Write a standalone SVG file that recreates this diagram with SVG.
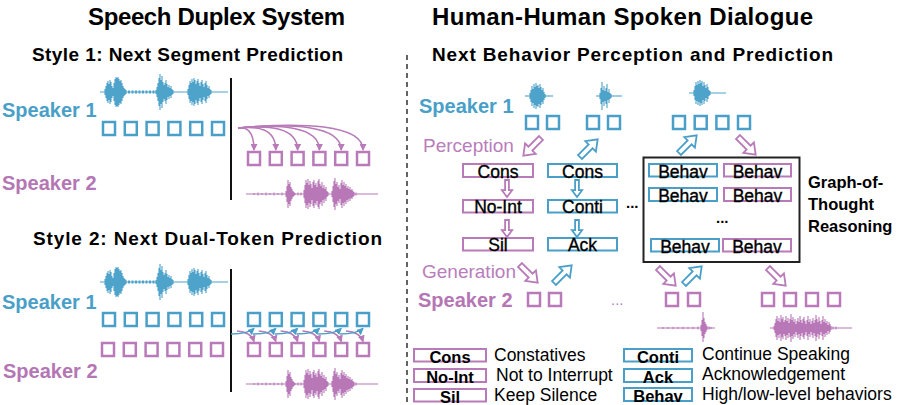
<svg xmlns="http://www.w3.org/2000/svg" xmlns:xlink="http://www.w3.org/1999/xlink" width="897" height="405" viewBox="0 0 897 405">
<style>
text{font-family:"Liberation Sans",Arial,sans-serif}
.t1{font-size:24px;font-weight:bold;fill:#000}
.t2{font-size:19px;font-weight:bold;fill:#000}
.s1{font-size:20px;font-weight:bold;fill:#4a9fc8}
.s2{font-size:20px;font-weight:bold;fill:#b476b4}
.pl{font-size:19px;fill:#b97dbb}
.lt{font-size:17.5px;fill:#000;stroke:#000;stroke-width:0.35;text-anchor:middle}
.lg{font-size:16.5px;font-weight:bold;fill:#000;text-anchor:middle}
.ds{font-size:17.5px;fill:#000}
.got{font-size:16.5px;font-weight:bold;fill:#000}
.bq{fill:none;stroke:#4a9fc8;stroke-width:2.5}
.pq{fill:none;stroke:#b87ab8;stroke-width:2.5}
.bl{fill:#fff;stroke:#4a9fc8;stroke-width:2}
.pbx{fill:#fff;stroke:#b87ab8;stroke-width:2}
.wb{fill:none;stroke:#4ea3cb;stroke-width:1.1}
.wp{fill:none;stroke:#b878b8;stroke-width:1.1}
.hb{fill:#fff;stroke:#4a9fc8;stroke-width:1.8}
.hp{fill:#fff;stroke:#b87ab8;stroke-width:1.8}
.cp{fill:none;stroke:#b87ab8;stroke-width:1.5}
.cb{fill:none;stroke:#4a9fc8;stroke-width:1.5}
.vl{stroke:#111;stroke-width:2}
</style>
<defs>
<rect id="sq" width="12" height="13"/>
<path id="ha" d="M0,-2.8H15V-7.5L25,0L15,7.5V2.8H0Z" vector-effect="non-scaling-stroke"/>
<marker id="mp" markerUnits="userSpaceOnUse" markerWidth="7" markerHeight="7" refX="6" refY="3.5" orient="auto"><path d="M0,0L7,3.5L0,7z" fill="#b87ab8"/></marker>
<marker id="mb" markerUnits="userSpaceOnUse" markerWidth="7" markerHeight="7" refX="6" refY="3.5" orient="auto"><path d="M0,0L7,3.5L0,7z" fill="#4a9fc8"/></marker>
<g id="wvb">
<path d="M0,0H128"/>
<path d="M28,0H55" stroke-width="3" stroke-dasharray="2 1.5"/>
<path d="M5,-3v6M6,-6v12M7,-9v18M8,-11v22M9,-8v16M10,-12v24M11,-10v20M12,-6v12M13,-4v8M14,-9v18M15,-13v26M16,-15v30M17,-14v28M18,-15v30M19,-13v26M20,-11v22M21,-12v24M22,-9v18M23,-6v12M24,-4v8M25,-3v6M26,-2v4M56,-2v4M57,-5v10M58,-9v18M59,-14v28M60,-18v36M61,-12v24M62,-16v32M63,-10v20M64,-7v14M65,-9v18M66,-12v24M67,-8v16M68,-5v10M69,-7v14M70,-4v8M71,-6v12M72,-3v6M73,-2v4M88,-3v6M89,-7v14M90,-11v22M91,-9v18M92,-13v26M93,-10v20M94,-14v28M95,-12v24M96,-8v16M97,-11v22M98,-13v26M99,-9v18M100,-6v12M101,-10v20M102,-12v24M103,-8v16M104,-5v10M105,-9v18M106,-11v22M107,-7v14M108,-4v8M109,-6v12M110,-3v6M111,-2v4"/>
</g>
<g id="wvp">
<path d="M0,0H132"/>
<path d="M8,-1v2M12,-1.5v3M16,-1v2M20,-1.5v3M24,-1v2M28,-1.5v3M32,-1v2M36,-1.5v3M40,-3v6M41,-8v16M42,-14v28M43,-10v20M44,-12v24M45,-7v14M46,-5v10M47,-3v6M48,-2v4M49,-1v2M52,-1.5v3M55,-1.5v3M58,-4v8M59,-9v18M60,-14v28M61,-11v22M62,-15v30M63,-9v18M64,-13v26M65,-10v20M66,-6v12M67,-12v24M68,-14v28M69,-9v18M70,-11v22M71,-7v14M72,-13v26M73,-15v30M74,-10v20M75,-8v16M76,-12v24M77,-6v12M78,-9v18M79,-5v10M80,-7v14M81,-3v6M82,-2v4M86,-3v6M87,-8v16M88,-13v26M89,-16v32M90,-10v20M91,-12v24M92,-7v14M93,-9v18M94,-5v10M95,-11v22M96,-14v28M97,-9v18M98,-12v24M99,-8v16M100,-10v20M101,-6v12M102,-8v16M103,-5v10M104,-7v14M105,-4v8M106,-5v10M107,-3v6M108,-2v4M110,-1.5v3"/>
</g>
</defs>
<rect width="897" height="405" fill="#fff"/>

<!-- titles -->
<text class="t1" x="88" y="25" textLength="257">Speech Duplex System</text>
<text class="t1" x="432" y="25" textLength="381">Human-Human Spoken Dialogue</text>
<text class="t2" x="32" y="61" textLength="311">Style 1: Next Segment Prediction</text>
<text class="t2" x="432" y="61" textLength="401">Next Behavior Perception and Prediction</text>
<text class="t2" x="33" y="245" textLength="349">Style 2: Next Dual-Token Prediction</text>
<line x1="407" y1="55" x2="407" y2="405" stroke="#111" stroke-width="1.3" stroke-dasharray="5 4"/>

<!-- Style 1 -->
<g id="style1-speaker1">
<text class="s1" x="2" y="117">Speaker 1</text>
<use href="#wvb" class="wb" transform="translate(100,92)"/>
<use href="#sq" class="bq" x="103" y="122"/><use href="#sq" class="bq" x="124.8" y="122"/><use href="#sq" class="bq" x="146.6" y="122"/><use href="#sq" class="bq" x="168.4" y="122"/><use href="#sq" class="bq" x="190.2" y="122"/><use href="#sq" class="bq" x="212" y="122"/>
</g>
<g id="style1-speaker2">
<text class="s2" x="2" y="190">Speaker 2</text>
<use href="#sq" class="pq" x="248" y="152"/><use href="#sq" class="pq" x="269.8" y="152"/><use href="#sq" class="pq" x="291.6" y="152"/><use href="#sq" class="pq" x="313.4" y="152"/><use href="#sq" class="pq" x="335.2" y="152"/><use href="#sq" class="pq" x="357" y="152"/>
<use href="#wvp" class="wp" transform="translate(246,194)"/>
</g>
<line class="vl" x1="231" y1="78" x2="231" y2="200"/>

<!-- Style 2 -->
<g id="style2-speaker1">
<text class="s1" x="2" y="309">Speaker 1</text>
<use href="#wvb" class="wb" transform="translate(100,282)"/>
<use href="#sq" class="bq" x="103" y="313"/><use href="#sq" class="bq" x="124.8" y="313"/><use href="#sq" class="bq" x="146.6" y="313"/><use href="#sq" class="bq" x="168.4" y="313"/><use href="#sq" class="bq" x="190.2" y="313"/><use href="#sq" class="bq" x="212" y="313"/>
<use href="#sq" class="bq" x="248" y="313"/><use href="#sq" class="bq" x="269.8" y="313"/><use href="#sq" class="bq" x="291.6" y="313"/><use href="#sq" class="bq" x="313.4" y="313"/><use href="#sq" class="bq" x="335.2" y="313"/><use href="#sq" class="bq" x="357" y="313"/>
</g>
<g id="style2-speaker2">
<text class="s2" x="3" y="378">Speaker 2</text>
<use href="#sq" class="pq" x="102" y="343"/><use href="#sq" class="pq" x="123.8" y="343"/><use href="#sq" class="pq" x="145.6" y="343"/><use href="#sq" class="pq" x="167.4" y="343"/><use href="#sq" class="pq" x="189.2" y="343"/><use href="#sq" class="pq" x="211" y="343"/>
<use href="#sq" class="pq" x="248" y="343"/><use href="#sq" class="pq" x="269.8" y="343"/><use href="#sq" class="pq" x="291.6" y="343"/><use href="#sq" class="pq" x="313.4" y="343"/><use href="#sq" class="pq" x="335.2" y="343"/><use href="#sq" class="pq" x="357" y="343"/>
<use href="#wvp" class="wp" transform="translate(246,384)"/>
</g>
<line class="vl" x1="231" y1="269" x2="231" y2="392"/>

<!-- Right: speaker 1 -->
<g id="hh-speaker1">
<text class="s1" x="419" y="113">Speaker 1</text>
<g class="wb">
<path d="M525,96H553"/>
<path transform="translate(525,96)" d="M5,-3v6M6,-6v12M7,-10v20M8,-7v14M9,-12v24M10,-9v18M11,-13v26M12,-10v20M13,-11v22M14,-8v16M15,-12v24M16,-9v18M17,-6v12M18,-8v16M19,-4v8M20,-2v4"/>
<path d="M596,96H622"/>
<path transform="translate(596,96)" d="M4,-3v6M5,-8v16M6,-14v28M7,-6v12M8,-10v20M9,-5v10M10,-8v16M11,-12v24M12,-4v8M13,-7v14M14,-3v6M15,-2v4"/>
<path d="M689,93H726"/>
<path transform="translate(689,93)" d="M5,-3v6M6,-7v14M7,-11v22M8,-8v16M9,-12v24M10,-9v18M11,-13v26M12,-10v20M13,-12v24M14,-7v14M15,-11v22M16,-8v16M17,-5v10M18,-9v18M19,-6v12M20,-3v6M21,-2v4"/>
</g>
<use href="#sq" class="bq" x="526" y="116"/><use href="#sq" class="bq" x="547" y="116"/>
<use href="#sq" class="bq" x="587" y="116"/><use href="#sq" class="bq" x="608" y="116"/>
<use href="#sq" class="bq" x="673" y="116"/><use href="#sq" class="bq" x="694.7" y="116"/><use href="#sq" class="bq" x="716.4" y="116"/><use href="#sq" class="bq" x="738" y="116"/>
</g>

<text class="pl" x="423" y="152">Perception</text>
<text class="pl" x="422" y="278">Generation</text>

<!-- behavior nodes -->
<g id="n-cons-p"><rect class="pbx" x="463" y="164" width="70" height="13"/><text class="lt" x="498" y="177.5">Cons</text></g>
<g id="n-noint"><rect class="pbx" x="463" y="200" width="70" height="12.5"/><text class="lt" x="498" y="213">No-Int</text></g>
<g id="n-sil"><rect class="pbx" x="463" y="238" width="70" height="12.5"/><text class="lt" x="498" y="251">Sil</text></g>
<g id="n-cons-b"><rect class="bl" x="548" y="164" width="69" height="13"/><text class="lt" x="582.5" y="177.5">Cons</text></g>
<g id="n-conti"><rect class="bl" x="548" y="200" width="69" height="12.5"/><text class="lt" x="582.5" y="213">Conti</text></g>
<g id="n-ack"><rect class="bl" x="548" y="238" width="69" height="12.5"/><text class="lt" x="582.5" y="251">Ack</text></g>
<text x="626" y="208" style="font-size:15px;font-weight:bold;fill:#000">...</text>

<g id="got-box">
<rect x="643.5" y="157.5" width="156" height="104.5" fill="none" stroke="#222" stroke-width="2"/>
<rect class="bl" x="649" y="164" width="68" height="12.5"/><text class="lt" x="683" y="177.5">Behav</text>
<rect class="pbx" x="724" y="164" width="67" height="12.5"/><text class="lt" x="757.5" y="177.5">Behav</text>
<rect class="bl" x="649" y="188" width="68" height="13"/><text class="lt" x="683" y="201.5">Behav</text>
<rect class="pbx" x="724" y="188" width="67" height="13"/><text class="lt" x="757.5" y="201.5">Behav</text>
<text x="716" y="223" style="font-size:15px;font-weight:bold;fill:#000">...</text>
<rect class="bl" x="651" y="239" width="68" height="12.5"/><text class="lt" x="685" y="252.5">Behav</text>
<rect class="pbx" x="723" y="239" width="68" height="12.5"/><text class="lt" x="757" y="252.5">Behav</text>
</g>
<g id="got-label">
<text class="got" x="808" y="188">Graph-of-</text>
<text class="got" x="808" y="210">Thought</text>
<text class="got" x="808" y="232">Reasoning</text>
</g>

<!-- Right: speaker 2 -->
<g id="hh-speaker2">
<text class="s2" x="418" y="307">Speaker 2</text>
<use href="#sq" class="pq" x="528" y="293"/><use href="#sq" class="pq" x="549" y="293"/>
<text x="611" y="305" style="font-size:15px;fill:#b87ab8">...</text>
<use href="#sq" class="pq" x="666" y="293"/><use href="#sq" class="pq" x="688" y="293"/>
<use href="#sq" class="pq" x="762" y="293"/><use href="#sq" class="pq" x="784" y="293"/><use href="#sq" class="pq" x="806" y="293"/><use href="#sq" class="pq" x="828" y="293"/>
<g class="wp">
<path d="M657,328H715"/>
<path transform="translate(657,328)" d="M6,-1v2M11,-1v2M16,-1.2v2.4M21,-1v2M26,-1.2v2.4M31,-1v2M36,-1.2v2.4M41,-1.5v3M44,-3v6M45,-8v16M46,-16v30M47,-10v20M48,-6v12M49,-4v8M50,-2v4M52,-1.5v3M54,-1v2"/>
<path d="M770,328H852"/>
<path transform="translate(770,328)" d="M4,-2v4M5,-5v10M6,-9v18M7,-12v24M8,-7v14M9,-10v20M10,-6v12M11,-13v26M12,-9v18M13,-11v22M14,-6v12M15,-8v16M16,-12v24M17,-7v14M18,-10v20M19,-5v10M20,-9v18M21,-14v28M22,-8v16M23,-11v22M24,-6v12M25,-9v18M26,-4v8M27,-7v14M28,-10v20M29,-6v12M30,-12v24M31,-8v16M32,-5v10M33,-9v18M34,-11v22M35,-7v14M36,-4v8M37,-8v16M38,-12v24M39,-6v12M40,-9v18M41,-4v8M42,-7v14M43,-10v20M44,-5v10M45,-8v16M46,-13v26M47,-9v18M48,-6v12M49,-11v22M50,-7v14M51,-4v8M52,-8v16M53,-12v24M54,-6v12M55,-9v18M56,-5v10M57,-7v14M58,-3v6M59,-6v12M60,-4v8M61,-2v4M63,-1.5v3M66,-1.5v3"/>
</g>
</g>

<!-- connectors -->
<g id="connectors">
<path class="cp" marker-end="url(#mp)" d="M238,128 C246,127 254,130 254,150"/>
<path class="cp" marker-end="url(#mp)" d="M238,128 C257,126 275.8,128 275.8,150"/>
<path class="cp" marker-end="url(#mp)" d="M238,128 C268,125 297.6,127 297.6,150"/>
<path class="cp" marker-end="url(#mp)" d="M238,128 C279,124 319.4,126 319.4,150"/>
<path class="cp" marker-end="url(#mp)" d="M238,128 C290,123 341.2,125 341.2,150"/>
<path class="cp" marker-end="url(#mp)" d="M238,128 C300,122 363,124 363,150"/>

<path class="cp" marker-end="url(#mp)" d="M237,331 Q251,332 254,341.5"/>
<path class="cp" marker-end="url(#mp)" d="M258.8,331 Q272.8,332 275.8,341.5"/>
<path class="cp" marker-end="url(#mp)" d="M280.6,331 Q294.6,332 297.6,341.5"/>
<path class="cp" marker-end="url(#mp)" d="M302.4,331 Q316.4,332 319.4,341.5"/>
<path class="cp" marker-end="url(#mp)" d="M324.2,331 Q338.2,332 341.2,341.5"/>
<path class="cp" marker-end="url(#mp)" d="M346,331 Q360,332 363,341.5"/>
<path class="cb" marker-end="url(#mb)" d="M231,334 Q248,334 254,328.5"/>
<path class="cb" marker-end="url(#mb)" d="M252.8,334 Q269.8,334 275.8,328.5"/>
<path class="cb" marker-end="url(#mb)" d="M274.6,334 Q291.6,334 297.6,328.5"/>
<path class="cb" marker-end="url(#mb)" d="M296.4,334 Q313.4,334 319.4,328.5"/>
<path class="cb" marker-end="url(#mb)" d="M318.2,334 Q335.2,334 341.2,328.5"/>
<path class="cb" marker-end="url(#mb)" d="M340,334 Q357,334 363,328.5"/>

<use href="#ha" class="hp" transform="translate(541,138) rotate(135)"/>
<use href="#ha" class="hb" transform="translate(580,157) rotate(-45)"/>
<use href="#ha" class="hb" transform="translate(679,153) rotate(-45)"/>
<use href="#ha" class="hp" transform="translate(738,137) rotate(45)"/>
<use href="#ha" class="hp" transform="translate(520,265) rotate(45)"/>
<use href="#ha" class="hb" transform="translate(554,283) rotate(-45)"/>
<use href="#ha" class="hp" transform="translate(658,268) rotate(45)"/>
<use href="#ha" class="hb" transform="translate(684,284) rotate(-45)"/>
<use href="#ha" class="hp" transform="translate(768,268) rotate(45)"/>
<use href="#ha" class="hp" transform="translate(507,180) rotate(90) scale(0.68)"/>
<use href="#ha" class="hp" transform="translate(507,220) rotate(90) scale(0.68)"/>
<use href="#ha" class="hb" transform="translate(577,180) rotate(90) scale(0.68)"/>
<use href="#ha" class="hb" transform="translate(577,220) rotate(90) scale(0.68)"/>
</g>

<!-- legend -->
<g id="legend">
<rect class="pbx" x="414" y="349" width="72" height="12.5"/><text class="lg" x="450" y="362.5">Cons</text>
<rect class="pbx" x="414" y="369" width="72" height="13"/><text class="lg" x="450" y="382.5">No-Int</text>
<rect class="pbx" x="414" y="389" width="72" height="12.5"/><text class="lg" x="450" y="402.5">Sil</text>
<text class="ds" x="494" y="361">Constatives</text>
<text class="ds" x="496" y="381">Not to Interrupt</text>
<text class="ds" x="494" y="401">Keep Silence</text>
<rect class="bl" x="624" y="349" width="68" height="12.5"/><text class="lg" x="658" y="362.5">Conti</text>
<rect class="bl" x="624" y="369" width="68" height="13"/><text class="lg" x="658" y="382.5">Ack</text>
<rect class="bl" x="624" y="388" width="68" height="13"/><text class="lg" x="658" y="401.5">Behav</text>
<text class="ds" x="702" y="360">Continue Speaking</text>
<text class="ds" x="702" y="380">Acknowledgement</text>
<text class="ds" x="702" y="400">High/low-level behaviors</text>
</g>
</svg>
